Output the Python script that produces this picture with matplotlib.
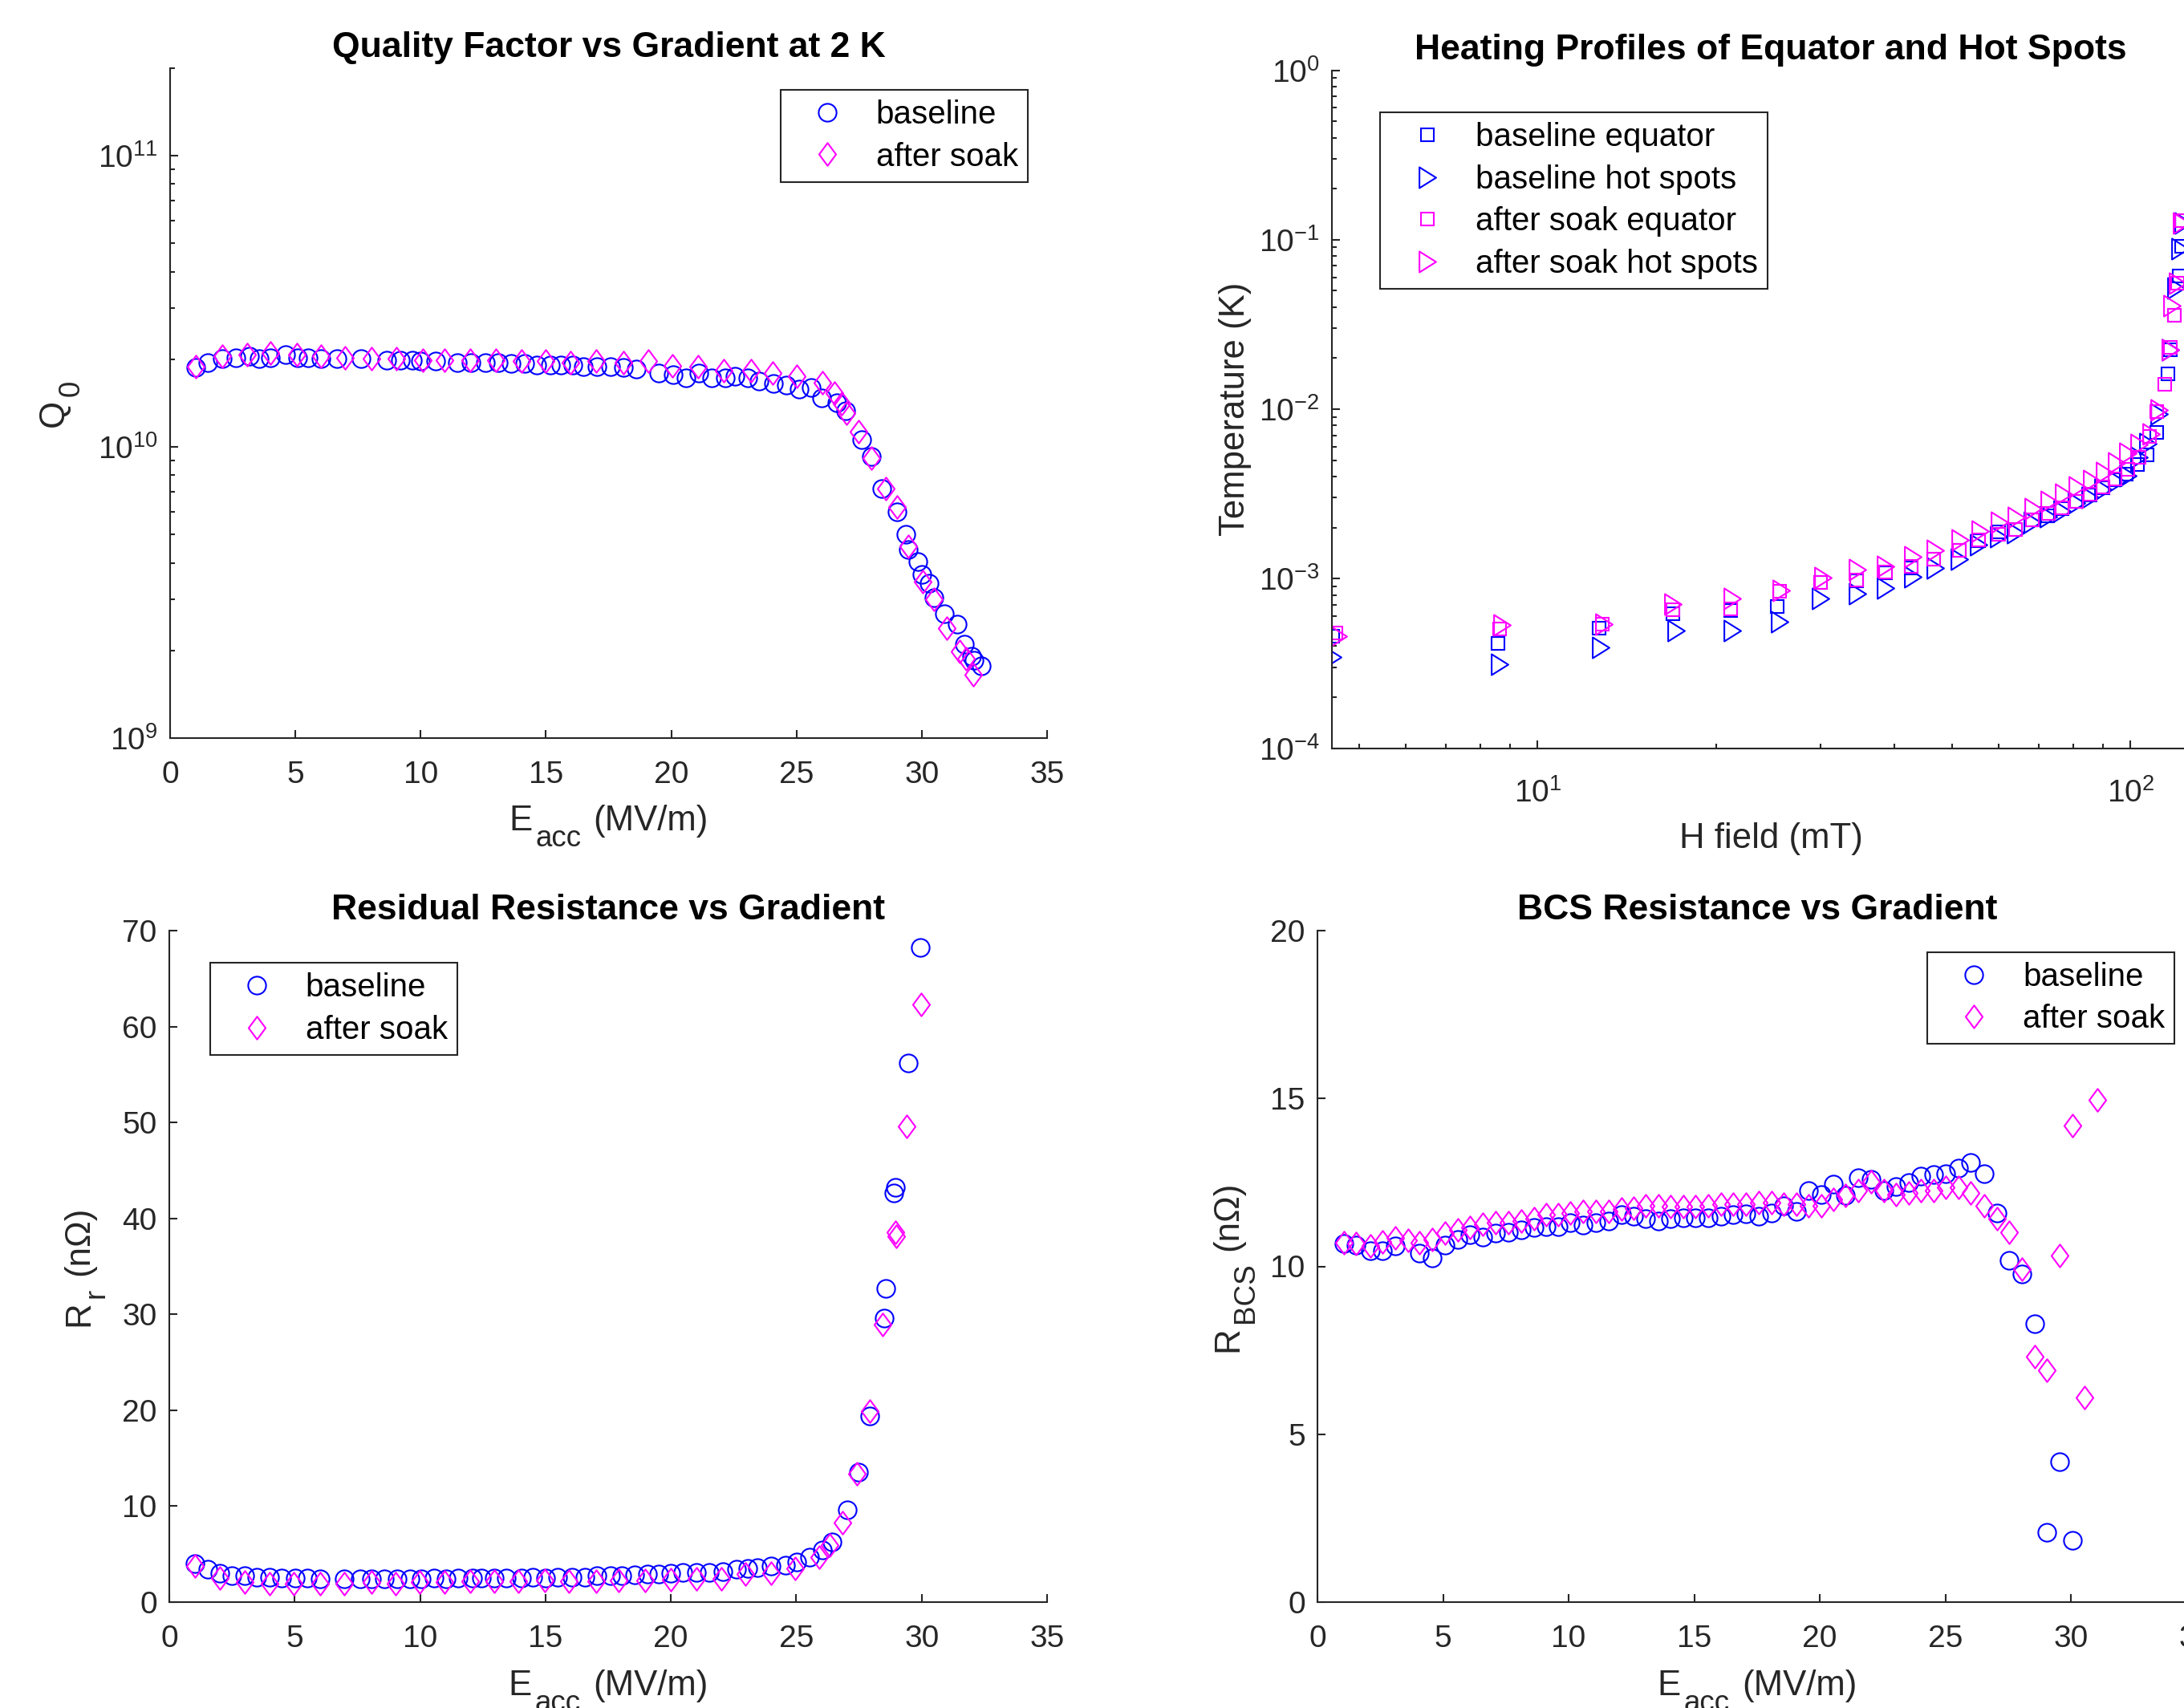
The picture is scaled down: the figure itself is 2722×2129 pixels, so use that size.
import matplotlib
matplotlib.use("Agg")
import matplotlib.pyplot as plt
from matplotlib.path import Path
from matplotlib.ticker import LogLocator, NullFormatter, FixedLocator

plt.rcParams['font.family'] = ['Liberation Sans', 'DejaVu Sans']
plt.rcParams['mathtext.fontset'] = 'custom'
plt.rcParams['mathtext.rm'] = 'Liberation Sans'
plt.rcParams['mathtext.it'] = 'Liberation Sans:italic'
plt.rcParams['mathtext.bf'] = 'Liberation Sans:bold'
plt.rcParams['mathtext.default'] = 'regular'
plt.rcParams['axes.unicode_minus'] = False

# ---------------- data ----------------
# Quality factor vs gradient
q_base_e = [1.03, 1.49, 2.08, 2.63, 3.16, 3.55, 4.0, 4.6, 5.1, 5.5, 6.02, 6.66, 7.62, 8.65, 9.2, 9.67, 10.0, 10.6,
            11.46, 12.0, 12.6, 13.1, 13.6, 14.14, 14.64, 15.17, 15.6, 16.07, 16.5, 17.03, 17.57, 18.1, 18.6, 19.5,
            20.07, 20.6, 21.1, 21.6, 22.15, 22.55, 23.06, 23.5, 24.08, 24.6, 25.1, 25.6, 26.0, 26.6, 26.95, 27.6,
            28.0, 28.4, 29.0, 29.35, 29.46, 29.85, 30.0, 30.3, 30.5, 30.9, 31.4, 31.7, 31.98, 32.1, 32.36]
q_base_q = [1.87e10, 1.95e10, 2.01e10, 2.03e10, 2.05e10, 2.01e10, 2.03e10, 2.07e10, 2.03e10, 2.03e10,
            2.01e10, 2.01e10, 2.01e10, 1.99e10, 1.99e10, 1.99e10, 1.97e10, 1.97e10, 1.95e10, 1.95e10,
            1.95e10, 1.95e10, 1.93e10, 1.93e10, 1.91e10, 1.91e10, 1.91e10, 1.91e10, 1.89e10, 1.89e10,
            1.89e10, 1.87e10, 1.85e10, 1.79e10, 1.77e10, 1.73e10, 1.79e10, 1.73e10, 1.73e10, 1.75e10,
            1.73e10, 1.68e10, 1.65e10, 1.63e10, 1.58e10, 1.60e10, 1.47e10, 1.42e10, 1.33e10, 1.06e10,
            9.25e9, 7.2e9, 6.0e9, 5.0e9, 4.44e9, 4.03e9, 3.66e9, 3.40e9, 3.03e9, 2.67e9,
            2.46e9, 2.10e9, 1.91e9, 1.85e9, 1.77e9]
q_soak_e = [1.03, 2.09, 3.09, 4.01, 5.06, 6.02, 6.98, 8.03, 9.04, 10.09, 10.94, 11.97, 13.0, 14.03, 14.99, 15.97,
            17.0, 18.1, 19.1, 20.04, 21.07, 22.1, 23.17, 24.04, 25.0, 26.03, 26.5, 26.8, 27.0, 27.47, 27.98,
            28.55, 29.0, 29.46, 30.04, 30.5, 31.0, 31.5, 31.75, 32.05]
q_soak_q = [1.89e10, 2.05e10, 2.07e10, 2.10e10, 2.07e10, 2.05e10, 2.03e10, 2.01e10, 2.01e10, 1.99e10,
            1.99e10, 1.99e10, 1.99e10, 1.97e10, 1.97e10, 1.95e10, 1.97e10, 1.95e10, 1.97e10, 1.905e10,
            1.89e10, 1.83e10, 1.83e10, 1.79e10, 1.75e10, 1.66e10, 1.53e10, 1.41e10, 1.31e10, 1.13e10,
            9.14e9, 7.18e9, 6.2e9, 4.57e9, 3.44e9, 3.0e9, 2.38e9, 1.99e9, 1.87e9, 1.65e9]

# Heating profiles
h_be = [4.52, 8.57, 12.71, 16.93, 21.17, 25.39, 30.04, 34.49, 38.64, 42.66, 46.55, 51.38, 55.48, 59.9, 63.97,
        68.30, 72.45, 76.55, 81.0, 85.4, 89.8, 94.3, 98.45, 102.8, 106.5, 110.6, 115.5, 116.8, 118.6, 120.7, 122.0]
t_be = [4.55e-4, 4.13e-4, 5.08e-4, 6.21e-4, 6.45e-4, 6.86e-4, 9.51e-4, 9.69e-4, 1.077e-3, 1.161e-3, 1.30e-3,
        1.473e-3, 1.67e-3, 1.89e-3, 1.952e-3, 2.212e-3, 2.355e-3, 2.585e-3, 2.84e-3, 3.12e-3, 3.43e-3, 3.84e-3,
        4.14e-3, 4.69e-3, 5.38e-3, 7.27e-3, 1.61e-2, 2.24e-2, 3.58e-2, 6.09e-2, 9.16e-2]
h_bh = [4.52, 8.62, 12.79, 17.11, 21.30, 25.61, 30.04, 34.65, 38.64, 42.94, 46.86, 51.38, 55.48, 59.9, 63.97,
        68.30, 72.6, 76.55, 81.0, 85.4, 89.8, 94.85, 99.1, 103.5, 106.9, 111.8, 116.8, 119.4, 121.3, 122.8]
t_bh = [3.45e-4, 3.12e-4, 3.91e-4, 4.93e-4, 4.93e-4, 5.58e-4, 7.64e-4, 8.12e-4, 8.82e-4, 1.025e-3, 1.161e-3,
        1.30e-3, 1.589e-3, 1.777e-3, 1.869e-3, 2.143e-3, 2.31e-3, 2.507e-3, 2.787e-3, 3.025e-3, 3.365e-3,
        3.765e-3, 4.06e-3, 5.21e-3, 6.29e-3, 9.33e-3, 2.24e-2, 5.21e-2, 8.87e-2, 0.1252]
h_se = [4.57, 8.62, 12.85, 16.93, 21.17, 25.61, 30.04, 34.49, 38.64, 42.66, 46.55, 51.38, 55.48, 59.9, 63.97,
        68.30, 72.6, 76.55, 81.0, 85.4, 89.8, 94.3, 99.1, 103.5, 107.7, 110.6, 114.3, 116.8, 118.6, 119.9, 122.0]
t_se = [4.78e-4, 5.02e-4, 5.41e-4, 6.53e-4, 6.61e-4, 8.39e-4, 9.51e-4, 9.81e-4, 1.09e-3, 1.176e-3, 1.30e-3,
        1.473e-3, 1.69e-3, 1.834e-3, 1.952e-3, 2.212e-3, 2.43e-3, 2.62e-3, 2.84e-3, 3.16e-3, 3.49e-3, 3.89e-3,
        4.40e-3, 5.21e-3, 6.91e-3, 9.63e-3, 1.40e-2, 2.31e-2, 3.58e-2, 5.55e-2, 0.129]
h_sh = [4.62, 8.72, 12.93, 16.89, 21.30, 25.78, 30.25, 34.65, 38.64, 42.94, 46.86, 51.60, 55.85, 60.17, 64.24,
        68.6, 72.94, 77.05, 81.4, 85.98, 90.4, 94.85, 99.1, 103.5, 108.2, 111.8, 116.8, 117.5, 120.2, 122.0]
t_sh = [4.55e-4, 5.35e-4, 5.41e-4, 7.04e-4, 7.64e-4, 8.49e-4, 1.012e-3, 1.133e-3, 1.184e-3, 1.341e-3, 1.473e-3,
        1.69e-3, 1.916e-3, 2.143e-3, 2.284e-3, 2.585e-3, 2.84e-3, 3.16e-3, 3.49e-3, 3.81e-3, 4.21e-3, 4.84e-3,
        5.48e-3, 6.21e-3, 7.12e-3, 9.93e-3, 2.24e-2, 4.06e-2, 5.55e-2, 0.1252]

# Residual resistance
rr_base_e = [1.02, 1.52, 2.0, 2.5, 3.01, 3.49, 3.99, 4.49, 5.02, 5.5, 6.0, 6.96, 7.6, 8.06, 8.56, 9.09, 9.59, 10.05,
             10.57, 11.03, 11.53, 12.1, 12.45, 12.95, 13.43, 14.04, 14.5, 15.0, 15.48, 16.06, 16.56, 17.06, 17.59,
             18.04, 18.57, 19.07, 19.53, 19.99, 20.49, 21.02, 21.52, 22.09, 22.62, 23.07, 23.46, 23.99, 24.56,
             25.02, 25.52, 26.04, 26.43, 27.02, 27.48, 27.94, 28.49, 28.56, 28.9, 28.95, 29.47, 29.93]
rr_base_r = [3.98, 3.40, 3.02, 2.78, 2.78, 2.63, 2.63, 2.54, 2.54, 2.54, 2.44, 2.44, 2.44, 2.44, 2.44, 2.39, 2.44,
             2.44, 2.54, 2.44, 2.54, 2.54, 2.54, 2.54, 2.54, 2.54, 2.63, 2.54, 2.63, 2.63, 2.63, 2.73, 2.73, 2.73,
             2.83, 2.92, 2.92, 3.02, 3.11, 3.11, 3.11, 3.21, 3.40, 3.5, 3.59, 3.74, 3.88, 4.22, 4.65, 5.42, 6.28,
             9.64, 13.58, 19.44, 29.61, 32.69, 42.63, 43.25, 56.17, 68.22]
rr_soak_e = [1.02, 2.0, 3.01, 3.99, 4.95, 6.0, 6.96, 8.06, 9.02, 9.98, 10.96, 11.99, 12.95, 13.93, 14.96, 15.92,
             17.02, 17.93, 18.96, 19.99, 21.02, 22.0, 22.96, 23.99, 24.97, 25.93, 26.34, 26.84, 27.41, 27.94,
             28.45, 28.95, 29.0, 29.4, 29.99]
rr_soak_r = [3.74, 2.54, 2.06, 1.96, 1.96, 1.96, 1.96, 2.06, 1.96, 2.06, 2.06, 2.16, 2.16, 2.16, 2.25, 2.16, 2.16,
             2.25, 2.25, 2.35, 2.44, 2.44, 2.92, 3.02, 3.5, 4.7, 5.9, 8.3, 13.34, 19.92, 28.95, 38.55, 38.16,
             49.59, 62.32]

# BCS resistance
bcs_base_e = [1.05, 1.54, 2.10, 2.60, 3.11, 4.06, 4.57, 5.09, 5.58, 6.08, 6.59, 7.09, 7.6, 8.1, 8.62, 9.11, 9.58,
              10.07, 10.57, 11.09, 11.6, 12.1, 12.59, 13.06, 13.58, 14.07, 14.57, 15.06, 15.55, 16.07, 16.56,
              17.06, 17.58, 18.07, 18.56, 19.06, 19.55, 20.05, 20.54, 21.03, 21.53, 22.04, 22.54, 23.05, 23.55,
              24.04, 24.53, 25.03, 25.52, 26.02, 26.56, 27.05, 27.54, 28.04, 28.55, 29.05, 29.54, 30.06]
bcs_base_r = [10.67, 10.63, 10.46, 10.46, 10.60, 10.40, 10.26, 10.63, 10.81, 10.94, 10.88, 10.99, 11.01, 11.08,
              11.15, 11.18, 11.18, 11.31, 11.22, 11.31, 11.36, 11.53, 11.49, 11.42, 11.36, 11.42, 11.45, 11.45,
              11.45, 11.49, 11.53, 11.56, 11.49, 11.59, 11.81, 11.63, 12.27, 12.14, 12.45, 12.11, 12.63, 12.59,
              12.27, 12.38, 12.49, 12.69, 12.73, 12.77, 12.93, 13.1, 12.77, 11.59, 10.19, 9.78, 8.30, 2.07, 4.18,
              1.85]
bcs_soak_e = [1.05, 1.54, 2.10, 2.60, 3.11, 3.61, 4.06, 4.57, 5.09, 5.58, 6.08, 6.59, 7.09, 7.6, 8.1, 8.62, 9.11,
              9.58, 10.07, 10.57, 11.09, 11.6, 12.1, 12.59, 13.06, 13.58, 14.07, 14.57, 15.06, 15.55, 16.07, 16.56,
              17.06, 17.58, 18.07, 18.56, 19.06, 19.55, 20.05, 20.54, 21.03, 21.53, 22.04, 22.54, 23.05, 23.55,
              24.04, 24.53, 25.03, 25.52, 26.02, 26.56, 27.05, 27.54, 28.04, 28.55, 29.05, 29.54, 30.06, 30.55,
              31.05]
bcs_soak_r = [10.71, 10.67, 10.60, 10.74, 10.85, 10.77, 10.71, 10.81, 10.99, 11.08, 11.15, 11.26, 11.31, 11.31,
              11.36, 11.42, 11.53, 11.53, 11.59, 11.63, 11.63, 11.63, 11.70, 11.73, 11.81, 11.81, 11.77, 11.77,
              11.77, 11.81, 11.84, 11.86, 11.86, 11.90, 11.90, 11.86, 11.86, 11.81, 11.81, 12.00, 12.11, 12.27,
              12.52, 12.27, 12.14, 12.18, 12.27, 12.27, 12.36, 12.36, 12.18, 11.81, 11.42, 11.01, 9.92, 7.31,
              6.90, 10.33, 14.20, 6.10, 14.96]

# ---------------- styling ----------------
W, H = 2722, 2129
DARK = '#262626'
BLUE = (0, 0, 1)
MAG = (1, 0, 1)
FS_TICK = 28
FS_LEG = 29
FS_LAB = 31.5
FS_SUB = 26.5
FS_TITLE = 32
SUB_DROP = 20  # px

diamond = Path([(0, 1), (0.74, 0), (0, -1), (-0.74, 0), (0, 1)], closed=True)
tri_right = Path([(0.8, 0), (-0.8, 1), (-0.8, -1), (0.8, 0)], closed=True)

fig = plt.figure(figsize=(W / 100, H / 100), dpi=100)
fig.patch.set_facecolor('white')
renderer = fig.canvas.get_renderer()


def rect(x0, x1, y0, y1):
    return [x0 / W, (H - y1) / H, (x1 - x0) / W, (y1 - y0) / H]


def style(ax, xpad=20):
    for s in ('top', 'right'):
        ax.spines[s].set_visible(False)
    for s in ('left', 'bottom'):
        ax.spines[s].set_linewidth(1.5)
        ax.spines[s].set_color(DARK)
    ax.tick_params(which='both', direction='in', colors=DARK, labelsize=FS_TICK, width=1.5)
    ax.tick_params(which='major', length=7.5)
    ax.tick_params(which='minor', length=4)
    ax.tick_params(axis='x', which='both', pad=xpad)
    ax.tick_params(axis='y', which='both', pad=11)


def text_w(s, size):
    t = fig.text(0, 0, s, fontsize=size)
    w = t.get_window_extent(renderer).width
    t.remove()
    return w


def compound(parts, cx, cy, vertical=False):
    """parts: list of (string, fontsize, is_sub, gap_before_px). (cx, cy): pixel coords from top-left;
    horizontal: cx = centre, cy = baseline; vertical: cx = baseline, cy = centre."""
    widths = [text_w(s, fs) for s, fs, sub, gap in parts]
    total = sum(widths) + sum(p[3] for p in parts)
    pos = -total / 2.0
    for (s, fs, sub, gap), w in zip(parts, widths):
        pos += gap
        if not vertical:
            x = cx + pos
            y = cy + (SUB_DROP if sub else 0)
            fig.text(x / W, (H - y) / H, s, fontsize=fs, color=DARK, ha='left', va='baseline')
        else:
            x = cx + (SUB_DROP if sub else 0)
            y = (H - cy) + pos
            fig.text(x / W, y / H, s, fontsize=fs, color=DARK, ha='left', va='baseline',
                     rotation=90, rotation_mode='anchor')
        pos += w


SP = 15  # space before parenthesis, px
SG = 4   # gap before subscript, px


def eacc_label(cx, by):
    compound([('E', FS_LAB, False, 0), ('acc', FS_SUB, True, SG), ('(MV/m)', FS_LAB, False, SP)], cx, by)


def legend(ax, loc, anchor):
    lg = ax.legend(loc=loc, bbox_to_anchor=anchor, borderaxespad=0, fontsize=FS_LEG, frameon=True,
                   fancybox=False, framealpha=1, edgecolor=DARK, borderpad=0.3, labelspacing=0.36,
                   handlelength=2.3, handletextpad=0.35, numpoints=1)
    lg.get_frame().set_linewidth(1.5)
    for t in lg.get_texts():
        t.set_color('black')
    return lg


def title(ax, s):
    ax.set_title(s, fontsize=FS_TITLE, fontweight='bold', color='black', pad=10)


mk = dict(linestyle='none', markerfacecolor='none', markeredgewidth=1.5)

# Top-left: quality factor
ax1 = fig.add_axes(rect(212, 1305, 85, 920))
ax1.plot(q_base_e, q_base_q, marker='o', ms=16, markeredgecolor=BLUE, label='baseline', **mk)
ax1.plot(q_soak_e, q_soak_q, marker=diamond, ms=20.5, markeredgecolor=MAG, label='after soak', **mk)
ax1.set_yscale('log')
ax1.set_xlim(0, 35)
ax1.set_ylim(1e9, 2e11)
ax1.set_xticks([0, 5, 10, 15, 20, 25, 30, 35])
ax1.yaxis.set_major_locator(FixedLocator([1e9, 1e10, 1e11]))
ax1.yaxis.set_minor_locator(LogLocator(base=10, subs=range(2, 10), numticks=20))
ax1.yaxis.set_minor_formatter(NullFormatter())
style(ax1)
title(ax1, 'Quality Factor vs Gradient at 2 K')
legend(ax1, 'upper right', (0.978, 0.9677))
eacc_label(758.5, 1035)
compound([('Q', FS_LAB, False, 0), ('0', FS_SUB, True, SG)], 79, 502.5, vertical=True)

# Top-right: heating profiles
ax2 = fig.add_axes(rect(1660, 2754, 87.5, 932.5))
ax2.plot(h_be, t_be, marker='s', ms=12, markeredgecolor=BLUE, label='baseline equator', **mk)
ax2.plot(h_bh, t_bh, marker=tri_right, ms=18.7, markeredgecolor=BLUE, label='baseline hot spots', **mk)
ax2.plot(h_se, t_se, marker='s', ms=12, markeredgecolor=MAG, label='after soak equator', **mk)
ax2.plot(h_sh, t_sh, marker=tri_right, ms=18.7, markeredgecolor=MAG, label='after soak hot spots', **mk)
ax2.set_xscale('log')
ax2.set_yscale('log')
ax2.set_xlim(4.5, 136)
ax2.set_ylim(1e-4, 1)
ax2.xaxis.set_major_locator(FixedLocator([10, 100]))
ax2.xaxis.set_minor_locator(LogLocator(base=10, subs=range(2, 10), numticks=20))
ax2.xaxis.set_minor_formatter(NullFormatter())
ax2.yaxis.set_major_locator(FixedLocator([1e-4, 1e-3, 1e-2, 1e-1, 1]))
ax2.yaxis.set_minor_locator(LogLocator(base=10, subs=range(2, 10), numticks=20))
ax2.yaxis.set_minor_formatter(NullFormatter())
style(ax2, xpad=27)
title(ax2, 'Heating Profiles of Equator and Hot Spots')
legend(ax2, 'upper left', (0.0553, 0.9374))
compound([('H field (mT)', FS_LAB, False, 0)], 2207, 1057.3)
compound([('Temperature (K)', FS_LAB, False, 0)], 1551, 510, vertical=True)

# Bottom-left: residual resistance
ax3 = fig.add_axes(rect(211, 1305, 1160, 1997))
ax3.plot(rr_base_e, rr_base_r, marker='o', ms=16, markeredgecolor=BLUE, label='baseline', **mk)
ax3.plot(rr_soak_e, rr_soak_r, marker=diamond, ms=20.5, markeredgecolor=MAG, label='after soak', **mk)
ax3.set_xlim(0, 35)
ax3.set_ylim(0, 70)
ax3.set_xticks([0, 5, 10, 15, 20, 25, 30, 35])
ax3.set_yticks([0, 10, 20, 30, 40, 50, 60, 70])
style(ax3)
title(ax3, 'Residual Resistance vs Gradient')
legend(ax3, 'upper left', (0.0466, 0.952))
eacc_label(758, 2113.3)
compound([('R', FS_LAB, False, 0), ('r', FS_SUB, True, SG), ('(nΩ)', FS_LAB, False, SP)], 110, 1578.5,
         vertical=True)

# Bottom-right: BCS resistance
ax4 = fig.add_axes(rect(1642, 2737.5, 1160, 1997))
ax4.plot(bcs_base_e, bcs_base_r, marker='o', ms=16, markeredgecolor=BLUE, label='baseline', **mk)
ax4.plot(bcs_soak_e, bcs_soak_r, marker=diamond, ms=20.5, markeredgecolor=MAG, label='after soak', **mk)
ax4.set_xlim(0, 35)
ax4.set_ylim(0, 20)
ax4.set_xticks([0, 5, 10, 15, 20, 25, 30, 35])
ax4.set_yticks([0, 5, 10, 15, 20])
style(ax4)
title(ax4, 'BCS Resistance vs Gradient')
legend(ax4, 'upper right', (0.975, 0.968))
eacc_label(2190, 2113.3)
compound([('R', FS_LAB, False, 0), ('BCS', FS_SUB, True, SG), ('(nΩ)', FS_LAB, False, SP)], 1542, 1578.5,
         vertical=True)

fig.savefig('out.png', dpi=100, facecolor='white')
